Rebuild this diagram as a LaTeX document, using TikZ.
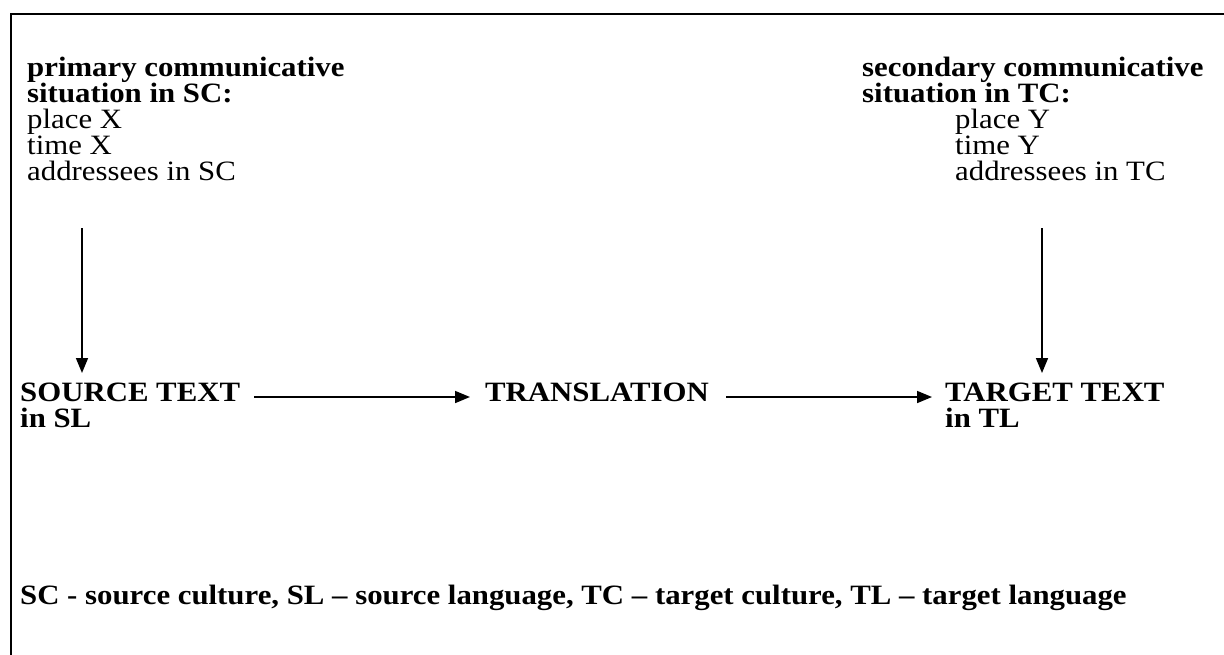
\documentclass[tikz,border=0pt]{standalone}
\usepackage{fontspec}
\setmainfont[FakeStretch=1.1]{Liberation Serif}
\usetikzlibrary{arrows.meta}
\begin{document}
\begin{tikzpicture}[x=1pt, y=-1pt,
    txt/.style={anchor=north west, inner sep=0pt, align=left,
                font=\fontsize{28}{26}\selectfont},
    btxt/.style={txt, font=\fontsize{28}{26}\selectfont\bfseries},
    arr/.style={-{Triangle[length=15pt,width=12pt]}, line width=1.6pt}]
    \useasboundingbox (0,0) rectangle (1224,654);
    % Рамка
    \draw[line width=2pt] (11,660) -- (11,14) -- (1230,14);

    % Исходная и вторичная ситуации
    \node[txt] (sitL) at (27,57) {\textbf{primary communicative}\\\textbf{situation in SC:}\\place X\\time X\\addressees in SC};
    \node[txt] (sitR) at (862,57) {\textbf{secondary communicative}\\\textbf{situation in TC:}\\
        \hspace*{93pt}place Y\\\hspace*{93pt}time Y\\\hspace*{93pt}addressees in TC};

    % Тексты
    \node[btxt] (src) at (20,383) {SOURCE TEXT\\in SL};
    \node[btxt] (trans) at (485,383) {TRANSLATION};
    \node[btxt] (tgt) at (945,383) {TARGET TEXT\\in TL};

    % Стрелки
    \draw[arr] ([xshift=55pt,yshift=-47pt]sitL.south west) -- ([xshift=62pt,yshift=10pt]src.north west);
    \draw[arr] ([xshift=180pt,yshift=-47pt]sitR.south west) -- ([xshift=97pt,yshift=10pt]tgt.north west);
    \draw[arr] ([xshift=14pt,yshift=-14pt]src.north east) -- ([xshift=-15pt,yshift=-14pt]trans.north west);
    \draw[arr] ([xshift=17pt,yshift=-14pt]trans.north east) -- ([xshift=-13pt,yshift=-14pt]tgt.north west);

    % Легенда
    \node[btxt, anchor=base west] (legend) at (20,604)
        {SC - source culture, SL – source language, TC – target culture, TL – target language};
\end{tikzpicture}
\end{document}
